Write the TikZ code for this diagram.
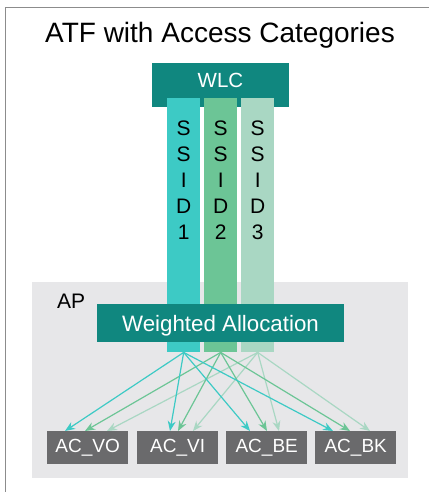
\documentclass[tikz,border=0pt]{standalone}
\usepackage{fontspec}
\setmainfont{Liberation Sans}
\usetikzlibrary{arrows.meta}
\definecolor{tealdark}{HTML}{10877F}
\definecolor{ssidone}{HTML}{3DCAC5}
\definecolor{ssidtwo}{HTML}{6CC596}
\definecolor{ssidthree}{HTML}{A9D7C3}
\definecolor{apgray}{HTML}{E7E7E9}
\definecolor{acgray}{HTML}{6A6A6C}
\definecolor{framegray}{HTML}{8C8C8C}
\tikzset{
  darkbox/.style={fill=tealdark, text=white},
  acbox/.style={fill=acgray, text=white, inner sep=0pt, minimum width=81pt,
    minimum height=33pt, font=\fontsize{19}{21}\selectfont},
  colbar/.style={inner sep=0pt, minimum width=33pt, minimum height=254pt},
  flow/.style={line width=1.2pt, -{Stealth[length=10pt,width=8pt]}},
  letters/.style={inner sep=0pt, align=center,
    font=\fontsize{21}{26}\selectfont, anchor=north}
}
\begin{document}
\begin{tikzpicture}[x=1pt,y=-1pt]
  \useasboundingbox (0,0) rectangle (428,492);
  % outer frame (top and left edges)
  \draw[framegray, line width=1pt] (5,500) -- (5,8) -- (430,8);
  % title
  \node[anchor=base, font=\fontsize{28}{32}\selectfont] (title) at (220,43) {ATF with Access Categories};
  % access point area
  \fill[apgray] (32,282) rectangle (408,478);
  \node[anchor=base west, inner sep=0pt, font=\fontsize{21}{24}\selectfont] (ap) at (57,308) {AP};
  % controller
  \node[darkbox, inner sep=0pt, minimum width=137pt, minimum height=44pt, anchor=north west] (wlc) at (152,63) {};
  \node[anchor=base, text=white, inner sep=0pt, font=\fontsize{20.5}{22}\selectfont] (wlctext) at (220.5,88) {WLC};
  % SSID columns
  \node[colbar, fill=ssidone, anchor=north west] (c1) at (167,98) {};
  \node[colbar, fill=ssidtwo, anchor=north west] (c2) at (204,98) {};
  \node[colbar, fill=ssidthree, anchor=north west] (c3) at (241,98) {};
  \node[letters] (t1) at (c1.north |- 0,121) {S\\S\\I\\D\\1};
  \node[letters] (t2) at (c2.north |- 0,121) {S\\S\\I\\D\\2};
  \node[letters] (t3) at (c3.north |- 0,121) {S\\S\\I\\D\\3};
  % weighted allocation
  \node[darkbox, inner sep=0pt, minimum width=247pt, minimum height=38pt, anchor=north west] (wa) at (97,304) {};
  \node[anchor=base, text=white, inner sep=0pt, font=\fontsize{22.3}{25}\selectfont] (watext) at (220.5,331) {Weighted Allocation};
  % access categories
  \node[acbox, anchor=north west] (vo) at (47,431) {AC\_VO};
  \node[acbox, anchor=north west] (vi) at (137,431) {AC\_VI};
  \node[acbox, anchor=north west] (be) at (226,431) {AC\_BE};
  \node[acbox, anchor=north west] (bk) at (315,431) {AC\_BK};
  % flows from each SSID to each access category
  \foreach \tgt/\da/\db/\dc in {vo/18/38/60, vi/33/41/56, be/24/41/53, bk/18/35/55}{
    \draw[flow, ssidthree] (c3.south) -- ([xshift=\dc pt]\tgt.north west);
    \draw[flow, ssidtwo] (c2.south) -- ([xshift=\db pt]\tgt.north west);
    \draw[flow, ssidone] (c1.south) -- ([xshift=\da pt]\tgt.north west);
  }
\end{tikzpicture}
\end{document}
